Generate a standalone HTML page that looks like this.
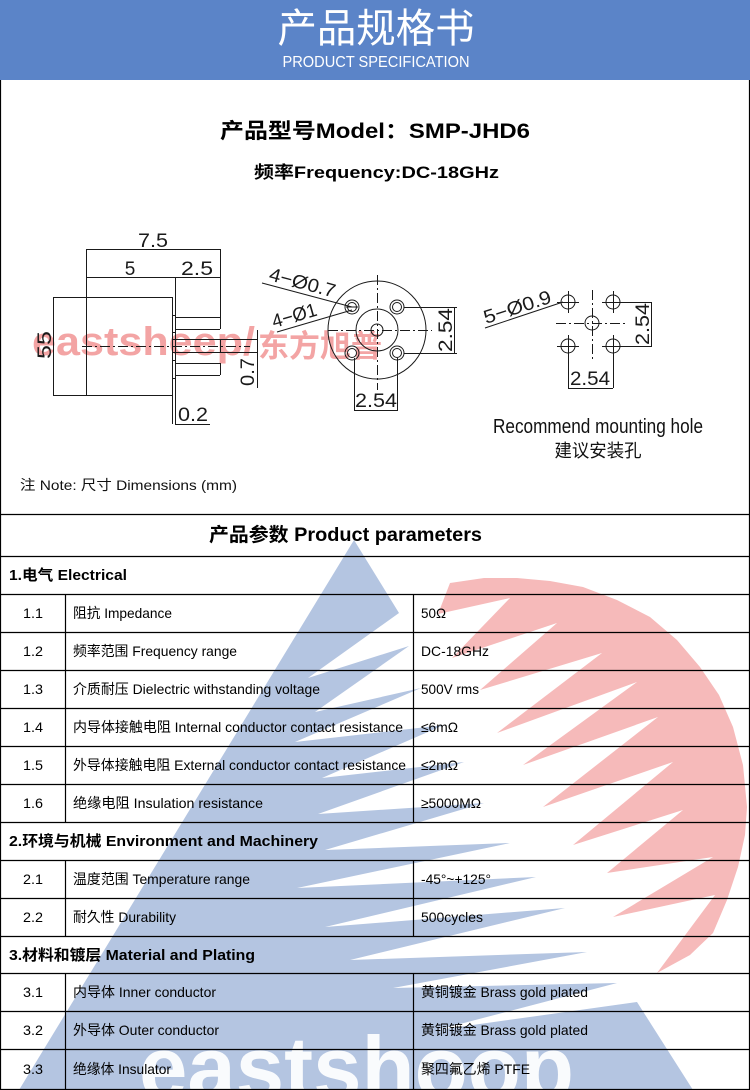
<!DOCTYPE html>
<html><head><meta charset="utf-8">
<style>html,body{margin:0;padding:0;background:#fff}svg{display:block}</style>
</head>
<body>
<svg width="750" height="1090" viewBox="0 0 750 1090" xmlns="http://www.w3.org/2000/svg" font-family="'Liberation Sans','Noto Sans CJK SC',sans-serif">
<rect width="750" height="1090" fill="#fff"/>

<!-- watermark logo -->
<polygon fill="#b4c5e1" points="354,540 399,613 308,678 409,646 315,712 421,688 295,742 444,725 322,778 464,762 318,814 484,803 325,850 510,843 297,888 536,877 325,927 565,908 350,960 587,952 393,988 617,983 437,1030 637,1002 693,1090 19,1090"/>
<polygon fill="#f6baba" points="450,583 484,578 517,578 550,581 583,587 617,600 650,617 677,640 700,667 719,695 733,727 743,765 747,807 745,835 738,867 727,900 713,933 690,955 657,973 715,895 613,917 713,857 607,873 683,810 573,845 673,762 543,807 658,717 523,765 637,682 497,733 602,653 480,690 557,623 452,658 510,598 438,614"/>
<text x="139" y="1098" font-size="88" font-weight="bold" fill="#fff" fill-opacity="0.92" textLength="435" lengthAdjust="spacingAndGlyphs">eastshoop</text>

<!-- header -->
<rect width="750" height="80" fill="#5b84c8"/>
<text x="376" y="42" font-size="40" fill="#fff" text-anchor="middle" textLength="197" lengthAdjust="spacingAndGlyphs">产品规格书</text>
<text x="376" y="67" font-size="16" fill="#fff" text-anchor="middle" textLength="187" lengthAdjust="spacingAndGlyphs">PRODUCT SPECIFICATION</text>

<!-- title lines -->
<text x="220" y="138" font-size="21" font-weight="bold" fill="#000" textLength="310" lengthAdjust="spacingAndGlyphs">产品型号Model：SMP-JHD6</text>
<text x="254" y="178" font-size="17" font-weight="bold" fill="#000" textLength="245" lengthAdjust="spacingAndGlyphs">频率Frequency:DC-18GHz</text>

<!-- pink text watermark -->
<text x="32" y="355" font-size="40" font-weight="bold" fill="#e84a4a" fill-opacity="0.5" textLength="223" lengthAdjust="spacingAndGlyphs">eastsheep/</text>
<text x="258" y="357" font-size="31" font-weight="bold" fill="#e84a4a" fill-opacity="0.5" textLength="124" lengthAdjust="spacingAndGlyphs">东方旭普</text>

<!-- left drawing -->
<g stroke="#1a1a1a" stroke-width="1" fill="none">
<path d="M86 249.5H220 M86 277.5H220 M86.5 249V395 M220.5 249V329 M175.5 277V424 M53 297.5H172 M53 395.5H172 M53.5 297V395 M172.5 297V424 M172 315.5H175 M172 332.5H175 M172 360.5H175 M172 378.5H175 M175 317.5H220 M175 329.5H220 M172 339.5H257 M172 352.5H257 M220.5 339V352 M175 363.5H220 M175 375.5H220 M220.5 363V375 M257.5 330V388 M175 424.5H210"/>
<path d="M82 346.5H250" stroke-dasharray="10 3 2 3"/>
</g>
<g fill="#1a1a1a" font-size="19">
<text x="153" y="247" text-anchor="middle" textLength="30" lengthAdjust="spacingAndGlyphs">7.5</text>
<text x="130" y="275" text-anchor="middle">5</text>
<text x="197" y="275" text-anchor="middle" textLength="32" lengthAdjust="spacingAndGlyphs">2.5</text>
<text x="193" y="421" text-anchor="middle" textLength="30" lengthAdjust="spacingAndGlyphs">0.2</text>
<text transform="translate(51,345) rotate(-90)" text-anchor="middle" textLength="28" lengthAdjust="spacingAndGlyphs">55</text>
<text transform="translate(254,372) rotate(-90)" text-anchor="middle" textLength="28" lengthAdjust="spacingAndGlyphs">0.7</text>
</g>

<!-- middle drawing -->
<g stroke="#1a1a1a" stroke-width="1" fill="none">
<circle cx="377" cy="330" r="49"/>
<circle cx="377" cy="330" r="21"/>
<circle cx="377" cy="330" r="6"/>
<circle cx="352" cy="307" r="7"/><circle cx="352" cy="307" r="4.5"/>
<circle cx="397" cy="307" r="7"/><circle cx="397" cy="307" r="4.5"/>
<circle cx="352" cy="353" r="7"/><circle cx="352" cy="353" r="4.5"/>
<circle cx="397" cy="353" r="7"/><circle cx="397" cy="353" r="4.5"/>
<path d="M377.5 275V390 M328 330.5H432" stroke-dasharray="10 3 2 3"/>
<path d="M404 307.5H457 M404 353.5H457 M454.5 307V353 M354.5 358V410 M397.5 358V410 M354 410.5H398"/>
<path d="M262 283L352 307 M277 332L352 310 M346 307H358"/>
</g>
<g fill="#1a1a1a" font-size="19">
<text transform="translate(452,330) rotate(-90)" text-anchor="middle" textLength="44" lengthAdjust="spacingAndGlyphs">2.54</text>
<text x="376" y="407" text-anchor="middle" textLength="42" lengthAdjust="spacingAndGlyphs">2.54</text>
<text transform="translate(268,280) rotate(15)" textLength="68" lengthAdjust="spacingAndGlyphs">4−Ø0.7</text>
<text transform="translate(274,328) rotate(-16)" textLength="46" lengthAdjust="spacingAndGlyphs">4−Ø1</text>
</g>

<!-- right drawing -->
<g stroke="#1a1a1a" stroke-width="1" fill="none">
<circle cx="568" cy="302" r="7"/><path d="M557 302.5H579 M568.5 291V313"/>
<circle cx="613" cy="302" r="7"/><path d="M602 302.5H624 M613.5 291V313"/>
<circle cx="592" cy="323" r="7"/>
<circle cx="568" cy="346" r="7"/><path d="M557 346.5H579 M568.5 335V357"/>
<circle cx="613" cy="346" r="7"/><path d="M602 346.5H624 M613.5 335V357"/>
<path d="M592.5 290V360 M556 323.5H627" stroke-dasharray="10 3 2 3"/>
<path d="M620 302.5H652 M620 346.5H652 M651.5 302V346 M568.5 353V388 M613.5 353V388 M568 388.5H613"/>
<path d="M485 328L563 302"/>
</g>
<g fill="#1a1a1a" font-size="19">
<text transform="translate(649,324) rotate(-90)" text-anchor="middle" textLength="42" lengthAdjust="spacingAndGlyphs">2.54</text>
<text x="590" y="385" text-anchor="middle" textLength="40" lengthAdjust="spacingAndGlyphs">2.54</text>
<text transform="translate(486,324) rotate(-18)" textLength="70" lengthAdjust="spacingAndGlyphs">5−Ø0.9</text>
</g>
<text x="598" y="433" font-size="20" fill="#111" text-anchor="middle" textLength="210" lengthAdjust="spacingAndGlyphs">Recommend mounting hole</text>
<text x="598" y="457" font-size="18" fill="#111" text-anchor="middle" textLength="87" lengthAdjust="spacingAndGlyphs">建议安装孔</text>

<!-- note -->
<text x="20" y="490" font-size="14" fill="#111" textLength="217" lengthAdjust="spacingAndGlyphs">注 Note:  尺寸 Dimensions (mm)</text>

<!-- table lines -->
<g stroke="#000" stroke-width="1.2" fill="none">
<path d="M0.5 80V1090 M749.5 80V1090"/>
<path d="M0 514.5H750 M0 556.5H750 M0 594.5H750 M0 632.5H750 M0 670.5H750 M0 708.5H750 M0 746.5H750 M0 784.5H750 M0 822.5H750 M0 860.5H750 M0 898.5H750 M0 936.5H750 M0 973.5H750 M0 1011.5H750 M0 1049.5H750 M0 1089.5H750"/>
<path d="M65.5 594V822 M413.5 594V822 M65.5 860V936 M413.5 860V936 M65.5 973V1090 M413.5 973V1090"/>
</g>

<!-- table text -->
<text x="209" y="541" font-size="19" font-weight="bold" fill="#000" textLength="273" lengthAdjust="spacingAndGlyphs">产品参数 Product parameters</text>
<g font-size="15" font-weight="bold" fill="#000">
<text x="9" y="580" textLength="118" lengthAdjust="spacingAndGlyphs">1.电气 Electrical</text>
<text x="9" y="846" textLength="309" lengthAdjust="spacingAndGlyphs">2.环境与机械 Environment and Machinery</text>
<text x="9" y="960" textLength="246" lengthAdjust="spacingAndGlyphs">3.材料和镀层 Material and Plating</text>
</g>
<g font-size="14" fill="#000">
<text x="33" y="618" text-anchor="middle" textLength="20" lengthAdjust="spacingAndGlyphs">1.1</text>
<text x="73" y="618" textLength="99" lengthAdjust="spacingAndGlyphs">阻抗 Impedance</text>
<text x="421" y="618" textLength="25" lengthAdjust="spacingAndGlyphs">50Ω</text>

<text x="33" y="656" text-anchor="middle" textLength="20" lengthAdjust="spacingAndGlyphs">1.2</text>
<text x="73" y="656" textLength="164" lengthAdjust="spacingAndGlyphs">频率范围 Frequency range</text>
<text x="421" y="656" textLength="68" lengthAdjust="spacingAndGlyphs">DC-18GHz</text>

<text x="33" y="694" text-anchor="middle" textLength="20" lengthAdjust="spacingAndGlyphs">1.3</text>
<text x="73" y="694" textLength="247" lengthAdjust="spacingAndGlyphs">介质耐压 Dielectric withstanding voltage</text>
<text x="421" y="694" textLength="58" lengthAdjust="spacingAndGlyphs">500V rms</text>

<text x="33" y="732" text-anchor="middle" textLength="20" lengthAdjust="spacingAndGlyphs">1.4</text>
<text x="73" y="732" textLength="330" lengthAdjust="spacingAndGlyphs">内导体接触电阻 Internal conductor contact resistance</text>
<text x="421" y="732" textLength="37" lengthAdjust="spacingAndGlyphs">≤6mΩ</text>

<text x="33" y="770" text-anchor="middle" textLength="20" lengthAdjust="spacingAndGlyphs">1.5</text>
<text x="73" y="770" textLength="333" lengthAdjust="spacingAndGlyphs">外导体接触电阻 External conductor contact resistance</text>
<text x="421" y="770" textLength="37" lengthAdjust="spacingAndGlyphs">≤2mΩ</text>

<text x="33" y="808" text-anchor="middle" textLength="20" lengthAdjust="spacingAndGlyphs">1.6</text>
<text x="73" y="808" textLength="190" lengthAdjust="spacingAndGlyphs">绝缘电阻  Insulation resistance</text>
<text x="421" y="808" textLength="60" lengthAdjust="spacingAndGlyphs">≥5000MΩ</text>

<text x="33" y="884" text-anchor="middle" textLength="20" lengthAdjust="spacingAndGlyphs">2.1</text>
<text x="73" y="884" textLength="177" lengthAdjust="spacingAndGlyphs">温度范围 Temperature range</text>
<text x="421" y="884" textLength="70" lengthAdjust="spacingAndGlyphs">-45°~+125°</text>

<text x="33" y="922" text-anchor="middle" textLength="20" lengthAdjust="spacingAndGlyphs">2.2</text>
<text x="73" y="922" textLength="103" lengthAdjust="spacingAndGlyphs">耐久性 Durability</text>
<text x="421" y="922" textLength="62" lengthAdjust="spacingAndGlyphs">500cycles</text>

<text x="33" y="997" text-anchor="middle" textLength="20" lengthAdjust="spacingAndGlyphs">3.1</text>
<text x="73" y="997" textLength="143" lengthAdjust="spacingAndGlyphs">内导体 Inner conductor</text>
<text x="421" y="997" textLength="167" lengthAdjust="spacingAndGlyphs">黄铜镀金 Brass gold plated</text>

<text x="33" y="1035" text-anchor="middle" textLength="20" lengthAdjust="spacingAndGlyphs">3.2</text>
<text x="73" y="1035" textLength="146" lengthAdjust="spacingAndGlyphs">外导体 Outer conductor</text>
<text x="421" y="1035" textLength="167" lengthAdjust="spacingAndGlyphs">黄铜镀金 Brass gold plated</text>

<text x="33" y="1074" text-anchor="middle" textLength="20" lengthAdjust="spacingAndGlyphs">3.3</text>
<text x="73" y="1074" textLength="98" lengthAdjust="spacingAndGlyphs">绝缘体 Insulator</text>
<text x="421" y="1074" textLength="109" lengthAdjust="spacingAndGlyphs">聚四氟乙烯 PTFE</text>
</g>
</svg>
</body></html>
